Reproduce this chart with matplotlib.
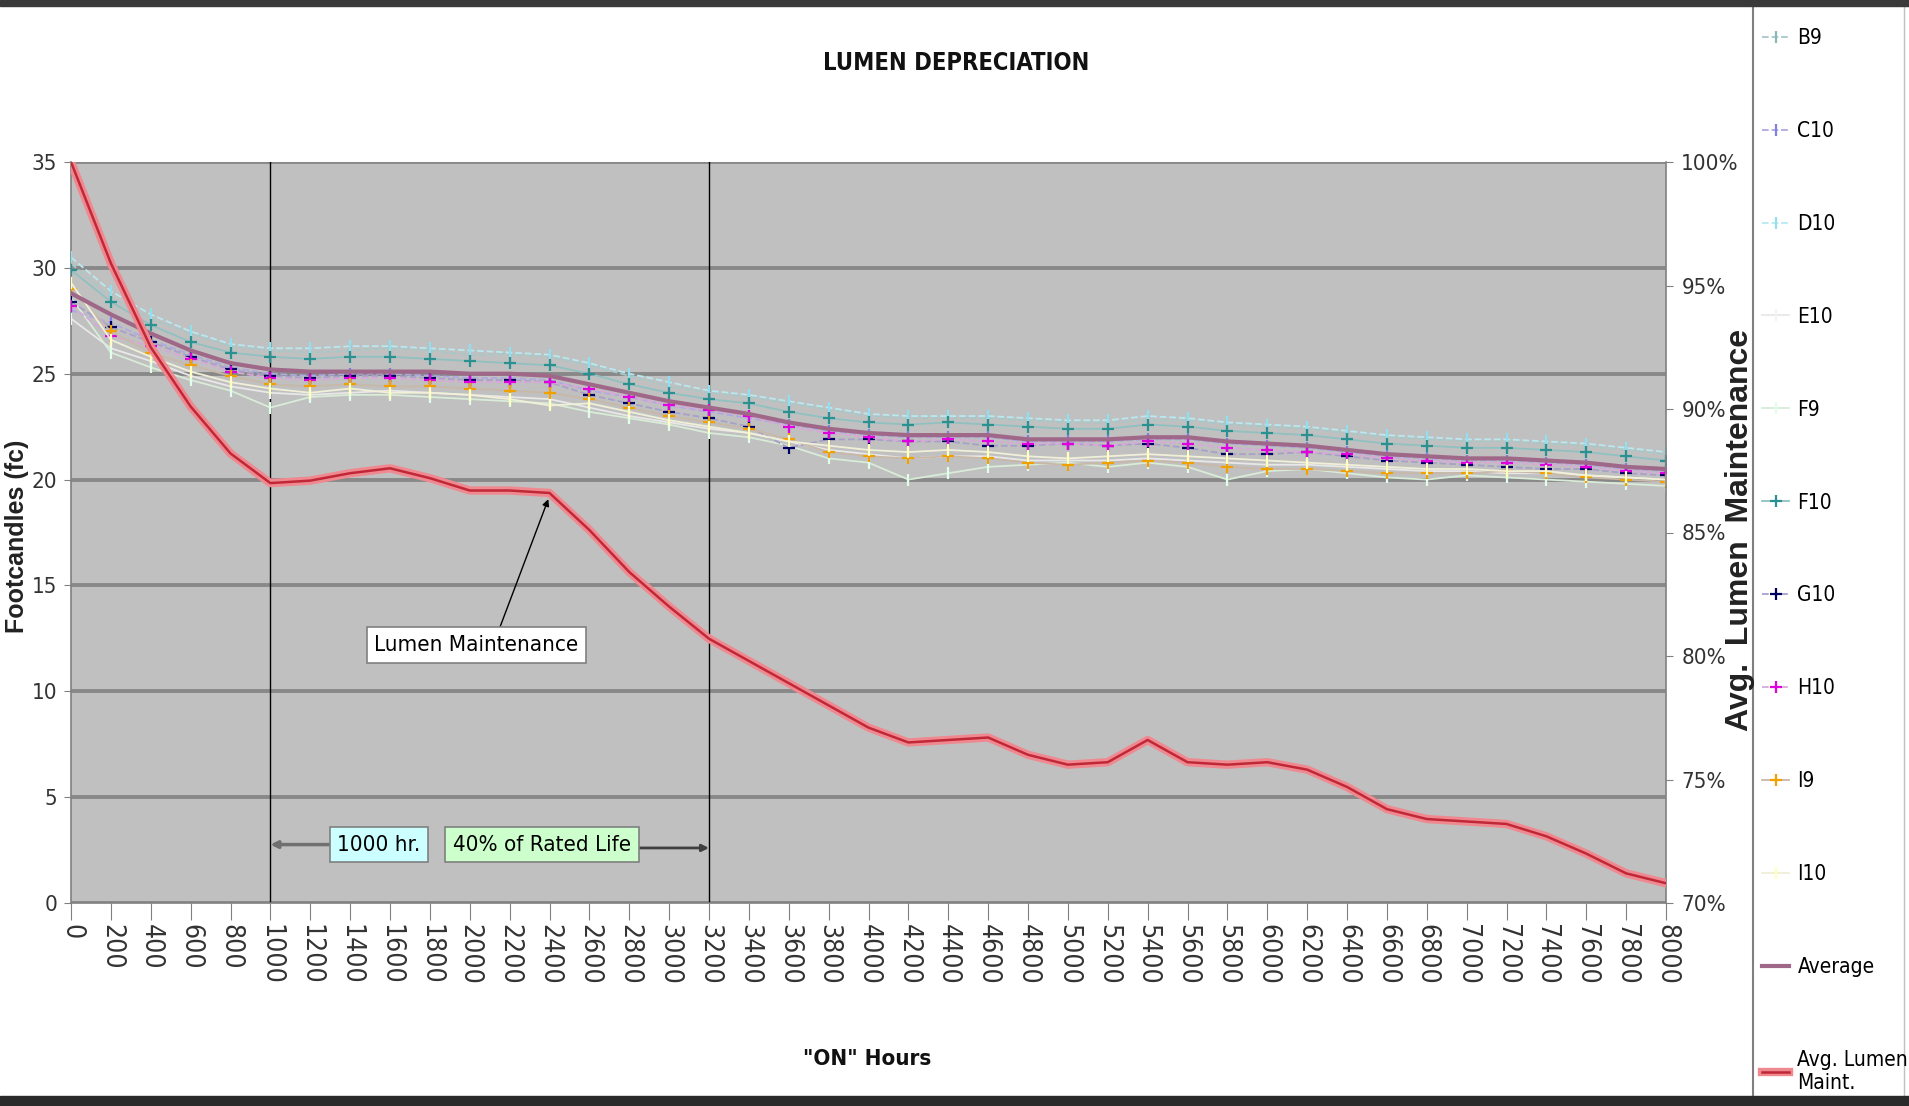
import matplotlib
matplotlib.use('Agg')
import matplotlib.pyplot as plt
from matplotlib import font_manager as fm
from matplotlib.font_manager import FontProperties
from matplotlib.lines import Line2D
from matplotlib.patches import Rectangle
import matplotlib.patheffects as pe

# ---------------- data ----------------
hours = [0, 200, 400, 600, 800, 1000, 1200, 1400, 1600, 1800, 2000, 2200, 2400, 2600,
         2800, 3000, 3200, 3400, 3600, 3800, 4000, 4200, 4400, 4600, 4800, 5000, 5200,
         5400, 5600, 5800, 6000, 6200, 6400, 6600, 6800, 7000, 7200, 7400, 7600, 7800, 8000]

B9 = [30.2, 28.6, 27.6, 26.9, 26.3, 26.1, 26.0, 26.1, 26.2, 26.1, 25.9, 25.9, 25.8, 25.4, 24.9,
      24.4, 24.1, 23.9, 23.6, 23.3, 23.0, 22.9, 22.9, 22.9, 22.8, 22.7, 22.7, 22.8, 22.8, 22.6,
      22.5, 22.4, 22.2, 22.0, 21.9, 21.8, 21.8, 21.7, 21.6, 21.4, 21.2]
C10 = [28.0, 27.4, 26.6, 25.9, 25.3, 25.0, 24.9, 25.0, 25.0, 24.9, 24.8, 24.8, 24.7, 24.2, 23.9,
       23.5, 23.2, 22.9, 22.6, 22.3, 22.1, 22.0, 22.0, 22.0, 21.8, 21.8, 21.8, 21.9, 21.9, 21.7,
       21.6, 21.5, 21.3, 21.1, 21.0, 20.9, 20.9, 20.8, 20.7, 20.5, 20.4]
D10 = [30.5, 28.9, 27.8, 27.0, 26.4, 26.2, 26.2, 26.3, 26.3, 26.2, 26.1, 26.0, 25.9, 25.5, 25.0,
       24.6, 24.2, 24.0, 23.7, 23.4, 23.1, 23.0, 23.0, 23.0, 22.9, 22.8, 22.8, 23.0, 22.9, 22.7,
       22.6, 22.5, 22.3, 22.1, 22.0, 21.9, 21.9, 21.8, 21.7, 21.5, 21.3]
E10 = [27.6, 26.2, 25.6, 24.9, 24.4, 24.1, 24.0, 24.1, 24.2, 24.1, 24.0, 23.9, 23.8, 23.4, 23.0,
       22.7, 22.4, 22.2, 21.8, 21.4, 21.2, 21.0, 21.1, 21.1, 20.9, 20.9, 20.9, 21.0, 20.9, 20.8,
       20.7, 20.7, 20.6, 20.5, 20.4, 20.4, 20.3, 20.3, 20.2, 20.1, 20.0]
F9 = [28.6, 26.0, 25.3, 24.7, 24.2, 23.4, 23.9, 24.0, 24.0, 23.9, 23.8, 23.7, 23.6, 23.2, 22.9,
      22.6, 22.2, 22.0, 21.6, 21.0, 20.8, 20.0, 20.3, 20.6, 20.7, 20.8, 20.6, 20.8, 20.6, 20.0,
      20.4, 20.5, 20.3, 20.1, 20.0, 20.2, 20.1, 20.0, 19.9, 19.8, 19.7]
F10 = [29.9, 28.4, 27.3, 26.5, 26.0, 25.8, 25.7, 25.8, 25.8, 25.7, 25.6, 25.5, 25.4, 25.0, 24.5,
       24.1, 23.8, 23.6, 23.2, 22.9, 22.7, 22.6, 22.7, 22.6, 22.5, 22.4, 22.4, 22.6, 22.5, 22.3,
       22.2, 22.1, 21.9, 21.7, 21.6, 21.5, 21.5, 21.4, 21.3, 21.1, 20.9]
G10 = [28.4, 27.2, 26.5, 25.8, 25.2, 24.9, 24.8, 24.9, 24.9, 24.8, 24.7, 24.7, 24.6, 24.0, 23.6,
       23.2, 22.9, 22.5, 21.5, 21.9, 21.9, 21.8, 21.8, 21.6, 21.6, 21.7, 21.6, 21.7, 21.5, 21.2,
       21.2, 21.3, 21.1, 20.9, 20.8, 20.7, 20.6, 20.5, 20.5, 20.3, 20.2]
H10 = [28.2, 26.8, 26.3, 25.7, 25.1, 24.8, 24.7, 24.8, 24.8, 24.7, 24.6, 24.6, 24.6, 24.3, 23.9,
       23.5, 23.3, 23.0, 22.5, 22.2, 22.0, 21.8, 21.9, 21.8, 21.7, 21.7, 21.6, 21.8, 21.7, 21.5,
       21.4, 21.3, 21.2, 21.0, 20.9, 20.8, 20.8, 20.7, 20.6, 20.4, 20.3]
I9 = [29.0, 27.0, 26.0, 25.4, 24.9, 24.5, 24.4, 24.5, 24.4, 24.4, 24.3, 24.2, 24.1, 23.8, 23.4,
      23.0, 22.7, 22.4, 21.9, 21.3, 21.1, 21.0, 21.1, 21.0, 20.8, 20.7, 20.8, 20.9, 20.8, 20.6,
      20.5, 20.5, 20.4, 20.3, 20.3, 20.3, 20.4, 20.3, 20.1, 20.0, 19.9]
I10 = [29.3, 26.6, 25.8, 25.1, 24.6, 24.3, 24.1, 24.3, 24.1, 24.1, 24.0, 23.8, 23.5, 23.6, 23.2,
       22.8, 22.5, 22.2, 21.8, 21.6, 21.4, 21.3, 21.4, 21.3, 21.1, 21.0, 21.1, 21.2, 21.1, 21.0,
       20.9, 20.8, 20.7, 20.6, 20.5, 20.5, 20.4, 20.4, 20.2, 20.1, 20.0]
average = [28.8, 27.8, 26.9, 26.1, 25.5, 25.2, 25.1, 25.1, 25.1, 25.1, 25.0, 25.0, 24.9, 24.5,
           24.1, 23.7, 23.4, 23.1, 22.7, 22.4, 22.2, 22.1, 22.1, 22.1, 21.9, 21.9, 21.9, 22.0,
           22.0, 21.8, 21.7, 21.6, 21.4, 21.2, 21.1, 21.0, 21.0, 20.9, 20.8, 20.6, 20.5]
avg_lumen_maint = [100.0, 95.9, 92.5, 90.1, 88.2, 87.0, 87.1, 87.4, 87.6, 87.2, 86.7, 86.7, 86.6,
                   85.1, 83.4, 82.0, 80.7, 79.8, 78.9, 78.0, 77.1, 76.5, 76.6, 76.7, 76.0, 75.6,
                   75.7, 76.6, 75.7, 75.6, 75.7, 75.4, 74.7, 73.8, 73.4, 73.3, 73.2, 72.7, 72.0,
                   71.2, 70.8]

left_ticks = [0, 5, 10, 15, 20, 25, 30, 35]
right_ticks = [70, 75, 80, 85, 90, 95, 100]

# ---------------- fonts ----------------
names = {f.name for f in fm.fontManager.ttflist}
if 'Liberation Sans Narrow' in names:
    BASE = dict(family='Liberation Sans Narrow')
else:
    BASE = dict(family='DejaVu Sans', stretch='condensed')


def fp(size, weight='normal', family=None):
    if family:
        return FontProperties(family=family, size=size, weight=weight)
    return FontProperties(size=size, weight=weight, **BASE)


W, H = 1909, 1106
fig = plt.figure(figsize=(W / 100, H / 100), dpi=100)
fig.patch.set_facecolor('white')

ax = fig.add_axes([71 / W, 1 - 903 / H, (1666 - 71) / W, (903 - 162) / H])
ax.set_facecolor('#c0c0c0')
ax.set_xlim(0, 8000)
ax.set_ylim(0, 35)
ax.set_yticks(left_ticks)
ax.set_yticklabels([str(t) for t in left_ticks], fontproperties=fp(16), color='#333333')
ax.set_xticks(hours)
ax.set_xticklabels([str(h) for h in hours], rotation=270, fontproperties=fp(19), color='#333333')
ax.tick_params(axis='x', direction='out', length=12, color='#808080', pad=3)
ax.tick_params(axis='y', direction='out', length=5, color='#808080', pad=5)
ax.grid(axis='y', color='#888888', lw=2.8)
ax.set_axisbelow(True)
for s in ['top', 'right']:
    ax.spines[s].set_visible(False)
for s in ['left', 'bottom']:
    ax.spines[s].set_color('#808080')
    ax.spines[s].set_linewidth(1.2)

# vertical markers
ax.axvline(1000, color='black', lw=1.0, zorder=2)
ax.axvline(3200, color='black', lw=1.0, zorder=2)

# individual series
series = [
    ('B9', B9, dict(color='#a8c8c8', ls='--', marker='|', mec='#88b8b8')),
    ('C10', C10, dict(color='#b0a8e0', ls='--', marker='|', mec='#8080e0')),
    ('D10', D10, dict(color='#b8e8f0', ls='--', marker='|', mec='#90e0f0')),
    ('E10', E10, dict(color='#e8e8e8', ls='-', marker='|', mec='#f4f4f4')),
    ('F9', F9, dict(color='#d8ecd8', ls='-', marker='|', mec='#e0ffe8')),
    ('F10', F10, dict(color='#90c0c0', ls='-', marker='+', mec='#2a9090')),
    ('G10', G10, dict(color='#a8a0c8', ls='--', marker='+', mec='#000060')),
    ('H10', H10, dict(color='#d8a8d8', ls='--', marker='+', mec='#e000e0')),
    ('I9', I9, dict(color='#c8b8a8', ls='-', marker='+', mec='#f0a000')),
    ('I10', I10, dict(color='#f0f0d8', ls='-', marker='|', mec='#ffffc0')),
]
handles = []
for name, vals, st in series:
    ln, = ax.plot(hours, vals, lw=1.3, ms=9, mew=1.6, label=name, zorder=3, **st)
    handles.append(ln)
ln_avg, = ax.plot(hours, average, color='#a06888', lw=3, label='Average', zorder=4)
handles.append(ln_avg)

# right axis
ax2 = ax.twinx()
ax2.set_ylim(70, 100)
ax2.set_yticks(right_ticks)
ax2.set_yticklabels([f'{t}%' for t in right_ticks], fontproperties=fp(16), color='#333333')
ax2.tick_params(axis='y', direction='out', length=5, color='#808080', pad=6)
for s in ['top', 'left', 'bottom']:
    ax2.spines[s].set_visible(False)
ax2.spines['right'].set_color('#808080')
ax2.spines['right'].set_linewidth(1.2)
ln_lm, = ax2.plot(hours, avg_lumen_maint, color='#c02838', lw=1.8, zorder=5,
                  label='Avg. Lumen\nMaint.',
                  path_effects=[pe.Stroke(linewidth=6, foreground='#f08890'), pe.Normal()])
handles.append(ln_lm)

# annotations
ax2.annotate('Lumen Maintenance', xy=(2394, 86.35), xytext=(2034, 80.44),
             ha='center', va='center', fontproperties=fp(16), color='black',
             bbox=dict(boxstyle='square,pad=0.35', fc='white', ec='#808080', lw=1.2),
             arrowprops=dict(arrowstyle='-|>', color='black', lw=1.0, relpos=(0.6, 1.0),
                             mutation_scale=10, shrinkA=0, shrinkB=0), zorder=6)
ax.annotate('', xy=(1000, 2.76), xytext=(1390, 2.76),
            arrowprops=dict(arrowstyle='-|>', color='#707070', lw=2.5, mutation_scale=10,
                            shrinkA=0, shrinkB=0), zorder=6)
ax.annotate('', xy=(3200, 2.6), xytext=(2820, 2.6),
            arrowprops=dict(arrowstyle='-|>', color='#404040', lw=2.0, mutation_scale=10,
                            shrinkA=0, shrinkB=0), zorder=6)
ax.text(1545, 2.76, '1000 hr.', ha='center', va='center', fontproperties=fp(16), color='black',
        bbox=dict(boxstyle='square,pad=0.35', fc='#ccffff', ec='#808080', lw=1.2), zorder=7)
ax.text(2363, 2.76, '40% of Rated Life', ha='center', va='center', fontproperties=fp(16),
        color='black',
        bbox=dict(boxstyle='square,pad=0.35', fc='#ccffcc', ec='#808080', lw=1.2), zorder=7)

# titles and labels
fig.text(956 / W, 1 - 63 / H, 'LUMEN DEPRECIATION', ha='center', va='center',
         fontproperties=fp(17, 'bold'), color='#111111')
fig.text(867 / W, 1 - 1059 / H, '"ON" Hours', ha='center', va='center',
         fontproperties=fp(16, 'bold'), color='#111111')
fig.text(17 / W, 1 - 536 / H, 'Footcandles (fc)', ha='center', va='center', rotation=90,
         fontproperties=fp(18, 'bold', 'Liberation Sans'), color='#222222')
fig.text(1740 / W, 1 - 530 / H, 'Avg.  Lumen  Maintenance', ha='center', va='center',
         rotation=90, fontproperties=fp(23, 'bold', 'Liberation Sans'), color='#222222')

# legend (frame drawn as separate lines, as it is cut off at top and bottom)
leg = fig.legend(handles=handles, labels=[h.get_label() for h in handles],
                 loc='upper left', bbox_to_anchor=(1762 / W, 1 - 28 / H), frameon=False,
                 prop=fp(15), labelspacing=3.5, handlelength=1.3, handletextpad=0.4,
                 borderpad=0.0, borderaxespad=0.0)
fig.add_artist(Line2D([1753 / W, 1753 / W], [0, 1], transform=fig.transFigure,
                      color='#808080', lw=1.5))
fig.add_artist(Line2D([1904 / W, 1904 / W], [0, 1], transform=fig.transFigure,
                      color='#c0c0c0', lw=1.0))

# dark frame bands at top and bottom
fig.add_artist(Rectangle((0, 1 - 6 / H), 1, 6 / H, transform=fig.transFigure,
                         color='#3a3a3a', zorder=10))
fig.add_artist(Rectangle((0, 0), 1, 10 / H, transform=fig.transFigure,
                         color='#2a2a2a', zorder=10))

fig.savefig('out.png', dpi=100)
